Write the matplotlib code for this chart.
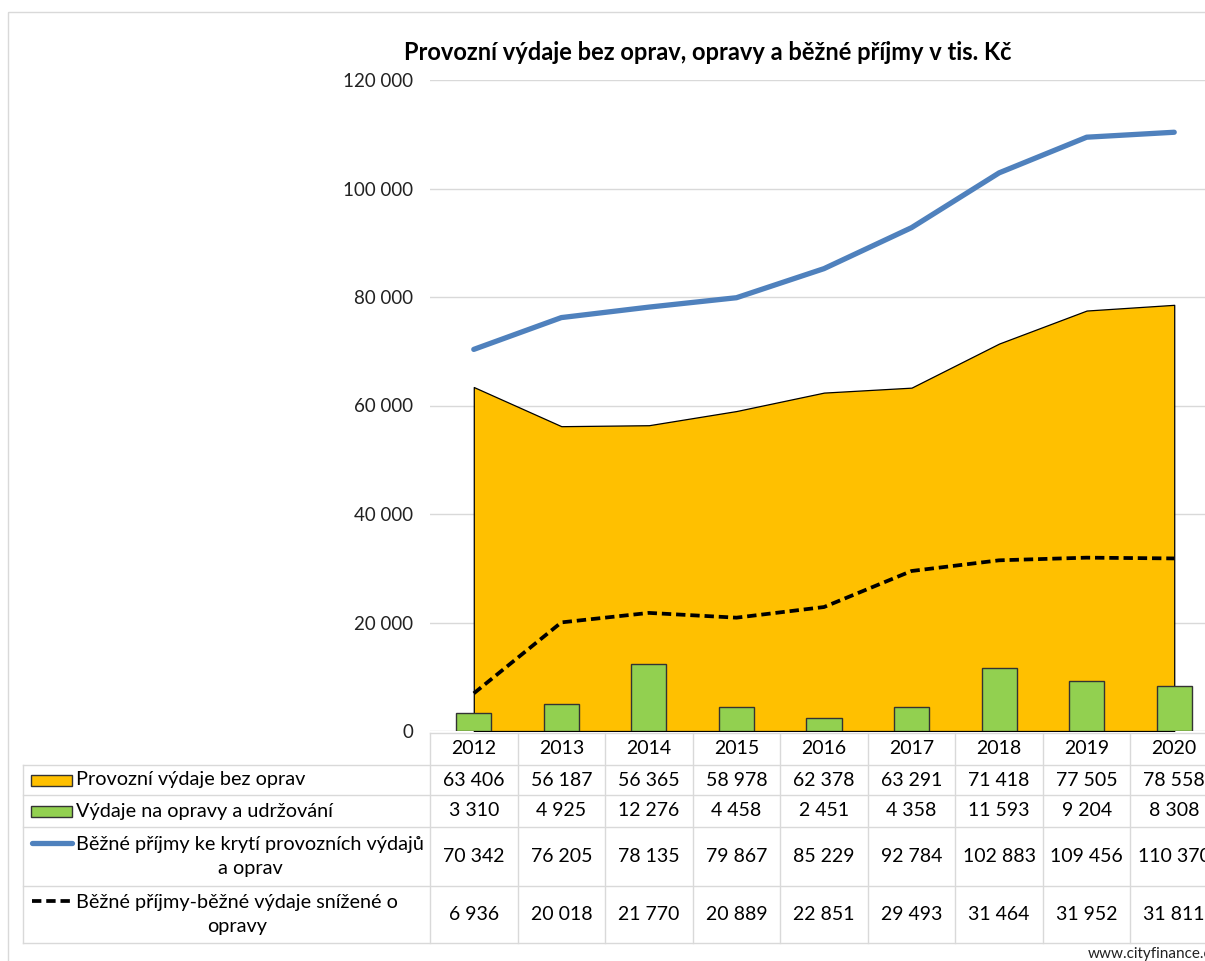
import matplotlib.pyplot as plt
import matplotlib.transforms as mtransforms
from matplotlib.patches import Rectangle
from matplotlib.lines import Line2D

plt.rcParams['font.family'] = ['Lato', 'DejaVu Sans']

roky = ['2012', '2013', '2014', '2015', '2016', '2017', '2018', '2019', '2020']
provozni = [63406, 56187, 56365, 58978, 62378, 63291, 71418, 77505, 78558]
opravy = [3310, 4925, 12276, 4458, 2451, 4358, 11593, 9204, 8308]
prijmy = [70342, 76205, 78135, 79867, 85229, 92784, 102883, 109456, 110370]
saldo = [6936, 20018, 21770, 20889, 22851, 29493, 31464, 31952, 31811]

nazvy = ['Provozní výdaje bez oprav',
         'Výdaje na opravy a udržování',
         'Běžné příjmy ke krytí provozních výdajů\na oprav',
         'Běžné příjmy-běžné výdaje snížené o\nopravy']

W, H = 1205, 961
ORANZ = '#FFC000'
ZELENA = '#92D050'
MODRA = '#4F81BD'
SEDA = '#D9D9D9'


def fmt(v):
    return f"{v:,}".replace(',', ' ')


fig = plt.figure(figsize=(W / 100, H / 100), dpi=100)

# pixel souradnice (od horniho okraje)
px = mtransforms.Affine2D().scale(1 / W, -1 / H).translate(0, 1) + fig.transFigure

# ramecek grafu
fig.patches.append(Rectangle((8, 12), 1300, 1000, transform=px, fill=False,
                             edgecolor=SEDA, lw=1))

left, right, top, bottom = 430, 1218, 80, 731
ax = fig.add_axes([left / W, 1 - bottom / H, (right - left) / W, (bottom - top) / H])
x = list(range(len(roky)))

ax.fill_between(x, provozni, 0, facecolor=ORANZ, edgecolor='black', lw=0.9, zorder=2)
ax.bar(x, opravy, width=0.4, color=ZELENA, edgecolor='#333333', lw=1.0, zorder=3)
ax.plot(x, prijmy, color=MODRA, lw=3.8, solid_capstyle='round', solid_joinstyle='round', zorder=4)
ax.plot(x, saldo, color='black', lw=2.7, dashes=(2.5, 1.3), zorder=5)

ax.set_xlim(-0.5, len(roky) - 0.5)
ax.set_ylim(0, 120000)
ax.set_yticks(range(0, 120001, 20000))
ax.set_yticklabels([fmt(v) for v in range(0, 120001, 20000)], fontsize=13.5, color='#222222')
ax.set_xticks([])
ax.tick_params(axis='y', length=0, pad=12)
ax.grid(axis='y', color=SEDA, lw=1, zorder=0)
ax.set_axisbelow(True)
for s in ax.spines.values():
    s.set_visible(False)
ax.patch.set_alpha(0)

fig.text(708 / W, 1 - 52 / H, 'Provozní výdaje bez oprav, opravy a běžné příjmy v tis. Kč',
         ha='center', va='center', fontsize=17, fontweight='bold')

# tabulka s daty
col = mtransforms.blended_transform_factory(ax.transData, px)
radky = [733, 765, 795, 827, 886, 943]
n = len(roky)

def hline(y, x0px):
    fig.lines.append(Line2D([x0px, 1300], [y, y], transform=px, color=SEDA, lw=1))

hline(radky[0], left)
for y in radky[1:]:
    hline(y, 23)
for i in range(n + 1):
    fig.lines.append(Line2D([i - 0.5, i - 0.5], [radky[0], radky[-1]], transform=col,
                            color=SEDA, lw=1))
fig.lines.append(Line2D([23, 23], [radky[1], radky[-1]], transform=px, color=SEDA, lw=1))

for i, r in enumerate(roky):
    fig.text(i, (radky[0] + radky[1]) / 2, r, transform=col, ha='center', va='center',
             fontsize=14)

hodnoty = [provozni, opravy, prijmy, saldo]
for k, (nazev, data) in enumerate(zip(nazvy, hodnoty)):
    yc = (radky[k + 1] + radky[k + 2]) / 2
    for i, v in enumerate(data):
        fig.text(i, yc, fmt(v), transform=col, ha='center', va='center', fontsize=14)
    fig.text(76, yc, nazev, transform=px, ha='left', va='center', fontsize=14.3,
             multialignment='center', linespacing=1.55)

# legendove znacky
ky1 = (radky[1] + radky[2]) / 2
ky2 = (radky[2] + radky[3]) / 2
fig.patches.append(Rectangle((31, ky1 - 5.5), 41, 11, transform=px, facecolor=ORANZ,
                             edgecolor='#333333', lw=1))
fig.patches.append(Rectangle((31, ky2 - 5.5), 41, 11, transform=px, facecolor=ZELENA,
                             edgecolor='#333333', lw=1))
ky3 = (radky[3] + radky[4]) / 2 - 14
ky4 = (radky[4] + radky[5]) / 2 - 14
fig.lines.append(Line2D([32, 72], [ky3, ky3], transform=px, color=MODRA, lw=3.8,
                        solid_capstyle='round'))
fig.lines.append(Line2D([32, 72], [ky4, ky4], transform=px, color='black', lw=2.7,
                        dashes=(2.5, 1.3)))

fig.text(1218 / W, 1 - 954 / H, 'www.cityfinance.cz', ha='right', va='center',
         fontsize=11, color='#222222')

fig.savefig('out.png', dpi=100)
plt.close(fig)
